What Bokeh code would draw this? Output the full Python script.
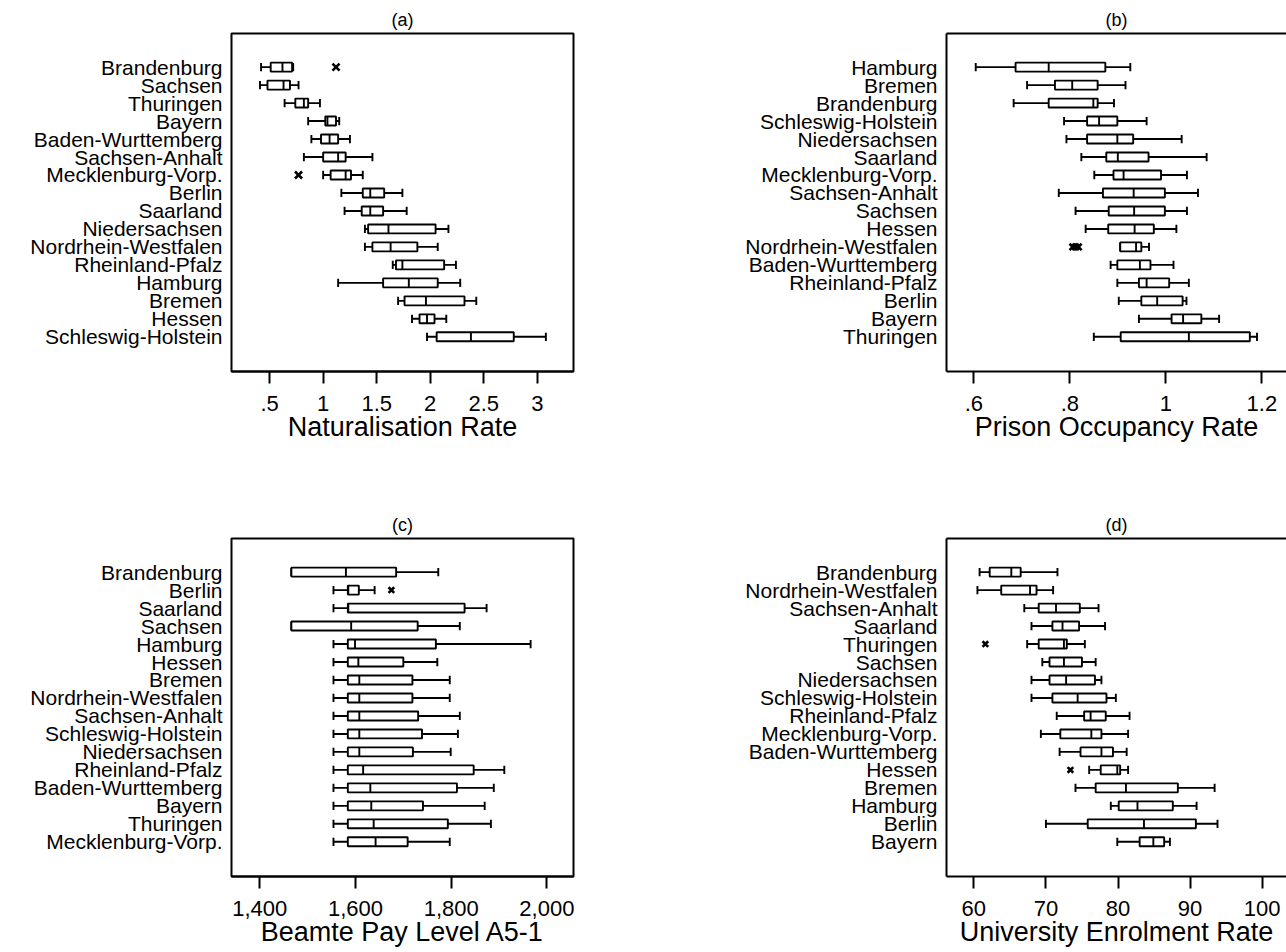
from bokeh.plotting import figure
from bokeh.layouts import column, row
from bokeh.models import (Range1d, FixedTicker, CustomJSTickFormatter,
                          NumeralTickFormatter, BasicTickFormatter, LinearAxis,
                          ColumnDataSource)
from bokeh.transform import dodge
from bokeh.embed import file_html
from bokeh.resources import INLINE

FONT = "Liberation Sans"

# ---------------- (a) Naturalisation rate ----------------
nat_states = ["Brandenburg", "Sachsen", "Thuringen", "Bayern", "Baden-Wurttemberg",
              "Sachsen-Anhalt", "Mecklenburg-Vorp.", "Berlin", "Saarland",
              "Niedersachsen", "Nordrhein-Westfalen", "Rheinland-Pfalz", "Hamburg",
              "Bremen", "Hessen", "Schleswig-Holstein"]
nat_lo = [0.42, 0.41, 0.64, 0.86, 0.89, 0.82, 1.00, 1.17, 1.20, 1.39, 1.39, 1.65, 1.14, 1.70, 1.83, 1.97]
nat_q1 = [0.51, 0.48, 0.74, 1.02, 0.98, 1.00, 1.07, 1.37, 1.36, 1.42, 1.46, 1.68, 1.56, 1.76, 1.90, 2.06]
nat_med = [0.62, 0.63, 0.82, 1.04, 1.06, 1.14, 1.21, 1.44, 1.44, 1.61, 1.63, 1.74, 1.80, 1.96, 1.97, 2.38]
nat_q3 = [0.71, 0.69, 0.86, 1.12, 1.14, 1.21, 1.26, 1.57, 1.56, 2.05, 1.88, 2.13, 2.07, 2.32, 2.04, 2.78]
nat_hi = [0.72, 0.77, 0.97, 1.15, 1.25, 1.46, 1.37, 1.74, 1.78, 2.17, 2.07, 2.24, 2.28, 2.43, 2.15, 3.08]
nat_out_states = ["Brandenburg", "Mecklenburg-Vorp."]
nat_out_vals = [1.12, 0.77]
nat_ticks = [0.5, 1, 1.5, 2, 2.5, 3]

# ---------------- (b) Prison occupancy rate ----------------
pri_states = ["Hamburg", "Bremen", "Brandenburg", "Schleswig-Holstein", "Niedersachsen",
              "Saarland", "Mecklenburg-Vorp.", "Sachsen-Anhalt", "Sachsen", "Hessen",
              "Nordrhein-Westfalen", "Baden-Wurttemberg", "Rheinland-Pfalz", "Berlin",
              "Bayern", "Thuringen"]
pri_lo = [0.604, 0.711, 0.683, 0.788, 0.793, 0.824, 0.851, 0.777, 0.812, 0.833, 0.905, 0.885, 0.899, 0.902, 0.944, 0.850]
pri_q1 = [0.687, 0.769, 0.756, 0.836, 0.836, 0.876, 0.891, 0.869, 0.881, 0.880, 0.905, 0.899, 0.944, 0.949, 1.012, 0.906]
pri_med = [0.756, 0.805, 0.849, 0.861, 0.899, 0.900, 0.912, 0.933, 0.934, 0.935, 0.938, 0.946, 0.960, 0.982, 1.036, 1.048]
pri_q3 = [0.874, 0.858, 0.858, 0.899, 0.932, 0.964, 0.990, 0.998, 0.998, 0.975, 0.949, 0.968, 1.007, 1.035, 1.074, 1.175]
pri_hi = [0.926, 0.916, 0.892, 0.960, 1.033, 1.085, 1.044, 1.067, 1.044, 1.022, 0.965, 1.016, 1.048, 1.043, 1.111, 1.190]
pri_out_states = ["Nordrhein-Westfalen", "Nordrhein-Westfalen", "Nordrhein-Westfalen"]
pri_out_vals = [0.806, 0.812, 0.818]
pri_ticks = [0.6, 0.8, 1.0, 1.2]

# ---------------- (c) Beamte pay level A5-1 ----------------
pay_states = ["Brandenburg", "Berlin", "Saarland", "Sachsen", "Hamburg", "Hessen", "Bremen",
              "Nordrhein-Westfalen", "Sachsen-Anhalt", "Schleswig-Holstein", "Niedersachsen",
              "Rheinland-Pfalz", "Baden-Wurttemberg", "Bayern", "Thuringen", "Mecklenburg-Vorp."]
pay_lo = [1466, 1554, 1554, 1466, 1554, 1554, 1554, 1554, 1554, 1554, 1554, 1554, 1554, 1554, 1554, 1554]
pay_q1 = [1466, 1584, 1584, 1466, 1584, 1584, 1584, 1584, 1584, 1584, 1584, 1584, 1584, 1584, 1584, 1584]
pay_med = [1580, 1585, 1585, 1591, 1599, 1606, 1608, 1608, 1608, 1608, 1608, 1616, 1631, 1633, 1638, 1642]
pay_q3 = [1685, 1607, 1828, 1730, 1768, 1700, 1719, 1719, 1731, 1739, 1720, 1847, 1812, 1741, 1793, 1709]
pay_hi = [1773, 1640, 1874, 1818, 1966, 1771, 1797, 1797, 1818, 1814, 1799, 1911, 1889, 1870, 1883, 1797]
pay_out_states = ["Berlin"]
pay_out_vals = [1675]
pay_ticks = [1400, 1600, 1800, 2000]

# ---------------- (d) University enrolment rate ----------------
uni_states = ["Brandenburg", "Nordrhein-Westfalen", "Sachsen-Anhalt", "Saarland", "Thuringen",
              "Sachsen", "Niedersachsen", "Schleswig-Holstein", "Rheinland-Pfalz",
              "Mecklenburg-Vorp.", "Baden-Wurttemberg", "Hessen", "Bremen", "Hamburg",
              "Berlin", "Bayern"]
uni_lo = [60.8, 60.5, 67.0, 68.0, 67.4, 69.5, 68.0, 68.0, 71.5, 69.3, 71.9, 76.0, 74.1, 79.0, 70.0, 79.9]
uni_q1 = [62.2, 63.8, 69.0, 70.9, 69.0, 70.5, 70.5, 70.9, 75.3, 72.0, 74.8, 77.6, 76.9, 80.1, 75.8, 83.0]
uni_med = [65.2, 67.8, 71.4, 72.3, 72.5, 72.5, 72.8, 74.4, 76.2, 76.3, 77.7, 79.9, 81.1, 82.7, 83.6, 84.9]
uni_q3 = [66.5, 68.7, 74.7, 74.6, 72.9, 75.0, 76.8, 78.4, 78.3, 77.7, 79.3, 80.3, 88.3, 87.6, 90.8, 86.4]
uni_hi = [71.6, 71.0, 77.3, 78.2, 75.4, 76.9, 77.7, 79.7, 81.6, 81.4, 81.2, 81.4, 93.4, 90.9, 93.8, 87.2]
uni_out_states = ["Thuringen", "Hessen"]
uni_out_vals = [61.6, 73.4]
uni_ticks = [60, 70, 80, 90, 100]

STATA_DEC = CustomJSTickFormatter(code="return String(tick).replace(/^0\\./, '.');")


def box_panel(title, states, lo, q1, med, q3, hi, out_states, out_vals,
              x_range, ticks, formatter, xlabel, width, height, border_left,
              border_right, closed, marker_size):
    n = len(states)
    p = figure(width=width, height=height, title=title,
               x_range=Range1d(*x_range), y_range=Range1d(n - 1 + 1.93, -1.87),
               output_backend="svg", toolbar_location=None,
               min_border_left=border_left, min_border_right=border_right,
               min_border_top=33, min_border_bottom=height - 33 - 338)
    p.background_fill_color = "white"
    p.border_fill_color = "white"
    p.xgrid.visible = False
    p.ygrid.visible = False

    src = ColumnDataSource(dict(pos=list(range(n)), lo=lo, q1=q1, med=med, q3=q3, hi=hi))
    lw = 1.9
    # whiskers and caps
    p.segment(x0="lo", y0="pos", x1="q1", y1="pos", source=src, line_color="black", line_width=lw)
    p.segment(x0="q3", y0="pos", x1="hi", y1="pos", source=src, line_color="black", line_width=lw)
    p.segment(x0="lo", y0=dodge("pos", -0.23), x1="lo", y1=dodge("pos", 0.23),
              source=src, line_color="black", line_width=lw)
    p.segment(x0="hi", y0=dodge("pos", -0.23), x1="hi", y1=dodge("pos", 0.23),
              source=src, line_color="black", line_width=lw)
    # boxes and medians
    p.hbar(y="pos", left="q1", right="q3", height=0.5, source=src,
           fill_color="white", line_color="black", line_width=lw)
    p.segment(x0="med", y0=dodge("pos", -0.25), x1="med", y1=dodge("pos", 0.25),
              source=src, line_color="black", line_width=lw)
    # outside values
    p.scatter(x=out_vals, y=[states.index(s) for s in out_states], marker="x",
              size=marker_size, line_width=2.6, line_color="black")

    # title
    p.title.align = "center"
    p.title.text_font = FONT
    p.title.text_font_size = "18px"
    p.title.text_font_style = "normal"
    p.title.text_color = "black"
    p.title.standoff = 7

    # x axis
    xa = p.xaxis[0]
    xa.ticker = FixedTicker(ticks=ticks)
    xa.formatter = formatter
    xa.axis_label = xlabel
    xa.axis_label_text_font = FONT
    xa.axis_label_text_font_size = "27px"
    xa.axis_label_text_font_style = "normal"
    xa.axis_label_text_color = "black"
    xa.axis_label_standoff = -2
    xa.major_label_text_font = FONT
    xa.major_label_text_font_size = "22px"
    xa.major_label_text_color = "black"
    xa.major_label_standoff = 12
    xa.major_tick_out = 12
    xa.major_tick_in = 0
    xa.major_tick_line_width = 2
    xa.major_tick_line_color = "black"
    xa.minor_tick_line_color = None
    xa.axis_line_width = 2
    xa.axis_line_color = "black"

    # y axis: state names
    ya = p.yaxis[0]
    ya.ticker = FixedTicker(ticks=list(range(n)))
    ya.formatter = CustomJSTickFormatter(args=dict(names=states),
                                         code="return names[Math.round(tick)] || '';")
    ya.major_label_text_font = FONT
    ya.major_label_text_font_size = "21px"
    ya.major_label_text_color = "black"
    ya.major_label_standoff = 9
    ya.major_tick_out = 0
    ya.major_tick_in = 0
    ya.major_tick_line_color = None
    ya.minor_tick_line_color = None

    if closed:
        p.outline_line_color = "black"
        p.outline_line_width = 2
        p.outline_line_alpha = 1
        ya.axis_line_color = None
    else:
        # frame continues past the right edge of the page: left, top and bottom only
        p.outline_line_color = None
        ya.axis_line_color = "black"
        ya.axis_line_width = 2
        top = LinearAxis(ticker=FixedTicker(ticks=[]), axis_line_width=2,
                         axis_line_color="black", major_tick_out=0, major_tick_in=0,
                         major_tick_line_color=None, minor_tick_line_color=None,
                         minor_tick_out=0, major_label_standoff=0)
        p.add_layout(top, "above")
    return p


W = 643
pa = box_panel("(a)", nat_states, nat_lo, nat_q1, nat_med, nat_q3, nat_hi,
               nat_out_states, nat_out_vals, (0.144, 3.338), nat_ticks, STATA_DEC,
               "Naturalisation Rate", W, 505, 231, W - 231 - 342, True, 10)
pb = box_panel("(b)", pri_states, pri_lo, pri_q1, pri_med, pri_q3, pri_hi,
               pri_out_states, pri_out_vals, (0.5431, 1.2514), pri_ticks, STATA_DEC,
               "Prison Occupancy Rate", W, 505, 303, 0, False, 9)
pc = box_panel("(c)", pay_states, pay_lo, pay_q1, pay_med, pay_q3, pay_hi,
               pay_out_states, pay_out_vals, (1340.9, 2055.6), pay_ticks,
               NumeralTickFormatter(format="0,0"),
               "Beamte Pay Level A5-1", W, 447, 231, W - 231 - 342, True, 8)
pd_ = box_panel("(d)", uni_states, uni_lo, uni_q1, uni_med, uni_q3, uni_hi,
                uni_out_states, uni_out_vals, (56.21, 103.37), uni_ticks,
                BasicTickFormatter(),
                "University Enrolment Rate", W, 447, 303, 0, False, 8)

layout = column(row(pa, pb), row(pc, pd_))

with open("out.html", "w") as f:
    f.write(file_html(layout, INLINE))
